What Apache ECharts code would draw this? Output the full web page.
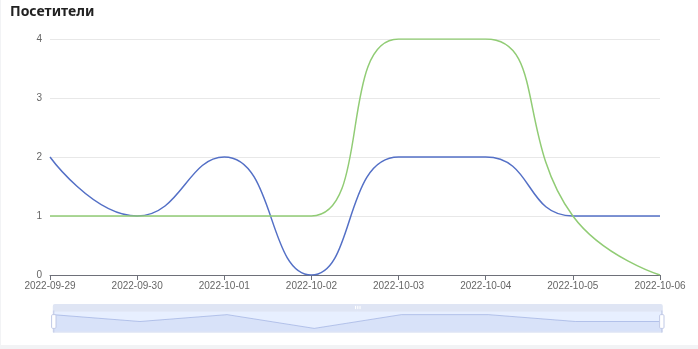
<!DOCTYPE html>
<html><head><meta charset="utf-8">
<script src="https://cdn.jsdelivr.net/npm/echarts@6/dist/echarts.min.js"></script>
<style>html,body{margin:0;padding:0;background:#f2f3f5;}#c{width:697px;height:345px;margin-left:1px;background:#fff;}</style>
</head><body><div id="c"></div>
<script>
const categories = ['2022-09-29','2022-09-30','2022-10-01','2022-10-02','2022-10-03','2022-10-04','2022-10-05','2022-10-06'];
const seriesBlue = [2,1,2,0,2,2,1,1];
const seriesGreen = [1,1,1,1,4,4,1,0];
const titleText = 'Посетители';
const chart = echarts.init(document.getElementById('c'));
chart.setOption({
  animation:false,
  title:{text:titleText,left:4,top:0,textStyle:{fontSize:14,fontWeight:'bold',color:'#222',fontFamily:'Noto Sans'}},
  grid:{left:49,right:38,top:39,bottom:70},
  xAxis:{type:'category',boundaryGap:false,data:categories,
    axisLabel:{fontSize:10,color:'#666',margin:6},
    axisLine:{lineStyle:{color:'#6e7079'}},axisTick:{alignWithLabel:true}},
  yAxis:{type:'value',min:0,max:4,interval:1,
    axisLabel:{fontSize:10,color:'#666',margin:8},
    splitLine:{lineStyle:{color:'#e8e8e8'}}},
  dataZoom:[{type:'slider',start:0,end:100,left:49,right:38,bottom:19,height:22,showDetail:false,
    moveHandleStyle:{color:'#dfe5f4',opacity:1}}],
  series:[
    {type:'line',smooth:true,data:seriesBlue,showSymbol:false,lineStyle:{width:1.5,color:'#5470c6'},itemStyle:{color:'#5470c6'}},
    {type:'line',smooth:true,data:seriesGreen,showSymbol:false,lineStyle:{width:1.5,color:'#91cc75'},itemStyle:{color:'#91cc75'}}
  ]
});
</script></body></html>
